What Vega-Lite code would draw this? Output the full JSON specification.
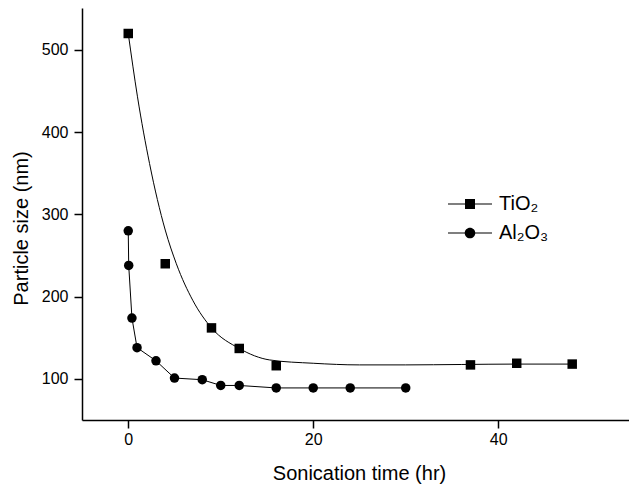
{
  "$schema": "https://vega.github.io/schema/vega-lite/v6.json",
  "width": 547,
  "height": 412,
  "autosize": {"type": "none"},
  "padding": {"left": 82, "top": 8, "right": 0, "bottom": 75},
  "background": "white",
  "config": {
    "view": {"stroke": null},
    "font": "Liberation Sans",
    "axis": {
      "grid": false,
      "domainColor": "black",
      "domainWidth": 1.5,
      "tickColor": "black",
      "tickWidth": 1.5,
      "tickSize": 8,
      "labelColor": "black",
      "labelFontSize": 16,
      "labelFont": "Liberation Sans",
      "titleColor": "black",
      "titleFontSize": 20,
      "titleFontWeight": "normal",
      "titleFont": "Liberation Sans"
    }
  },
  "datasets": {
    "pts": [
      {"series": "TiO₂", "i": 0, "x": 0, "y": 520},
      {"series": "TiO₂", "i": 1, "x": 4, "y": 240},
      {"series": "TiO₂", "i": 2, "x": 9, "y": 162},
      {"series": "TiO₂", "i": 3, "x": 12, "y": 137},
      {"series": "TiO₂", "i": 4, "x": 16, "y": 116},
      {"series": "TiO₂", "i": 5, "x": 37, "y": 117},
      {"series": "TiO₂", "i": 6, "x": 42, "y": 119},
      {"series": "TiO₂", "i": 7, "x": 48, "y": 118},
      {"series": "Al₂O₃", "i": 0, "x": 0, "y": 280},
      {"series": "Al₂O₃", "i": 1, "x": 0.05, "y": 238},
      {"series": "Al₂O₃", "i": 2, "x": 0.4, "y": 174},
      {"series": "Al₂O₃", "i": 3, "x": 0.95, "y": 138},
      {"series": "Al₂O₃", "i": 4, "x": 3, "y": 122},
      {"series": "Al₂O₃", "i": 5, "x": 5, "y": 101},
      {"series": "Al₂O₃", "i": 6, "x": 8, "y": 99},
      {"series": "Al₂O₃", "i": 7, "x": 10, "y": 92},
      {"series": "Al₂O₃", "i": 8, "x": 12, "y": 92},
      {"series": "Al₂O₃", "i": 9, "x": 16, "y": 89},
      {"series": "Al₂O₃", "i": 10, "x": 20, "y": 89},
      {"series": "Al₂O₃", "i": 11, "x": 24, "y": 89},
      {"series": "Al₂O₃", "i": 12, "x": 30, "y": 89}
    ],
    "fit": [
      {"x": 0, "y": 520},
      {"x": 1, "y": 443},
      {"x": 2.3, "y": 362},
      {"x": 4, "y": 281},
      {"x": 5.2, "y": 240},
      {"x": 7, "y": 195},
      {"x": 9, "y": 162},
      {"x": 12, "y": 137},
      {"x": 15.3, "y": 123},
      {"x": 20, "y": 119},
      {"x": 25, "y": 117},
      {"x": 30, "y": 117},
      {"x": 36, "y": 117.5},
      {"x": 42, "y": 118},
      {"x": 48, "y": 118}
    ],
    "legend": [
      {"series": "TiO₂", "x": 0, "y": 520},
      {"series": "Al₂O₃", "x": 0, "y": 280}
    ]
  },
  "encoding": {
    "x": {
      "field": "x", "type": "quantitative",
      "scale": {"domain": [-5, 54.14], "nice": false, "zero": false},
      "axis": {"values": [0, 20, 40], "title": "Sonication time (hr)", "labelPadding": 3, "titleX": 277, "titleY": 59, "titleBaseline": "alphabetic"}
    },
    "y": {
      "field": "y", "type": "quantitative",
      "scale": {"domain": [50, 551], "nice": false, "zero": false},
      "axis": {"values": [100, 200, 300, 400, 500], "title": "Particle size (nm)", "labelPadding": 6, "titleX": -55, "titleY": 220, "titleAngle": -90, "titleBaseline": "alphabetic", "titleAlign": "center"}
    }
  },
  "layer": [
    {
      "data": {"name": "fit"},
      "mark": {"type": "line", "interpolate": "monotone", "color": "black", "strokeWidth": 1}
    },
    {
      "data": {"name": "pts"},
      "transform": [{"filter": "datum.series === 'Al₂O₃'"}],
      "mark": {"type": "line", "color": "black", "strokeWidth": 1},
      "encoding": {"order": {"field": "i", "type": "quantitative"}}
    },
    {
      "data": {"name": "pts"},
      "mark": {"type": "point", "filled": true, "opacity": 1, "color": "black", "size": 90},
      "encoding": {
        "shape": {
          "field": "series", "type": "nominal",
          "scale": {"domain": ["TiO₂", "Al₂O₃"], "range": ["square", "circle"]},
          "legend": null
        }
      }
    },
    {
      "data": {"name": "legend"},
      "mark": {"type": "point", "filled": true, "opacity": 0, "color": "black", "size": 400},
      "encoding": {
        "shape": {
          "field": "series", "type": "nominal",
          "scale": {"domain": ["TiO₂", "Al₂O₃"], "range": ["M-2.2,-0.06H-0.5V0.06H-2.2ZM0.5,-0.06H2.2V0.06H0.5ZM-0.5,-0.5H0.5V0.5H-0.5Z", "M-2.2,-0.06H-0.5V0.06H-2.2ZM0.5,-0.06H2.2V0.06H0.5ZM0.53,0A0.53,0.53,0,1,1,-0.53,0A0.53,0.53,0,1,1,0.53,0Z"]},
          "legend": {
            "title": null,
            "orient": "none",
            "legendX": 377,
            "legendY": 185,
            "padding": 0,
            "labelFontSize": 20,
            "labelFont": "Liberation Sans",
            "labelColor": "black",
            "labelOffset": 18,
            "rowPadding": 8,
            "symbolSize": 400,
            "symbolOpacity": 1,
            "encode": {
              "symbols": {
                "fill": {"value": "black"},
                "opacity": {"value": 1}
              }
            }
          }
        }
      }
    }
  ],
  "resolve": {"scale": {"shape": "independent"}}
}
